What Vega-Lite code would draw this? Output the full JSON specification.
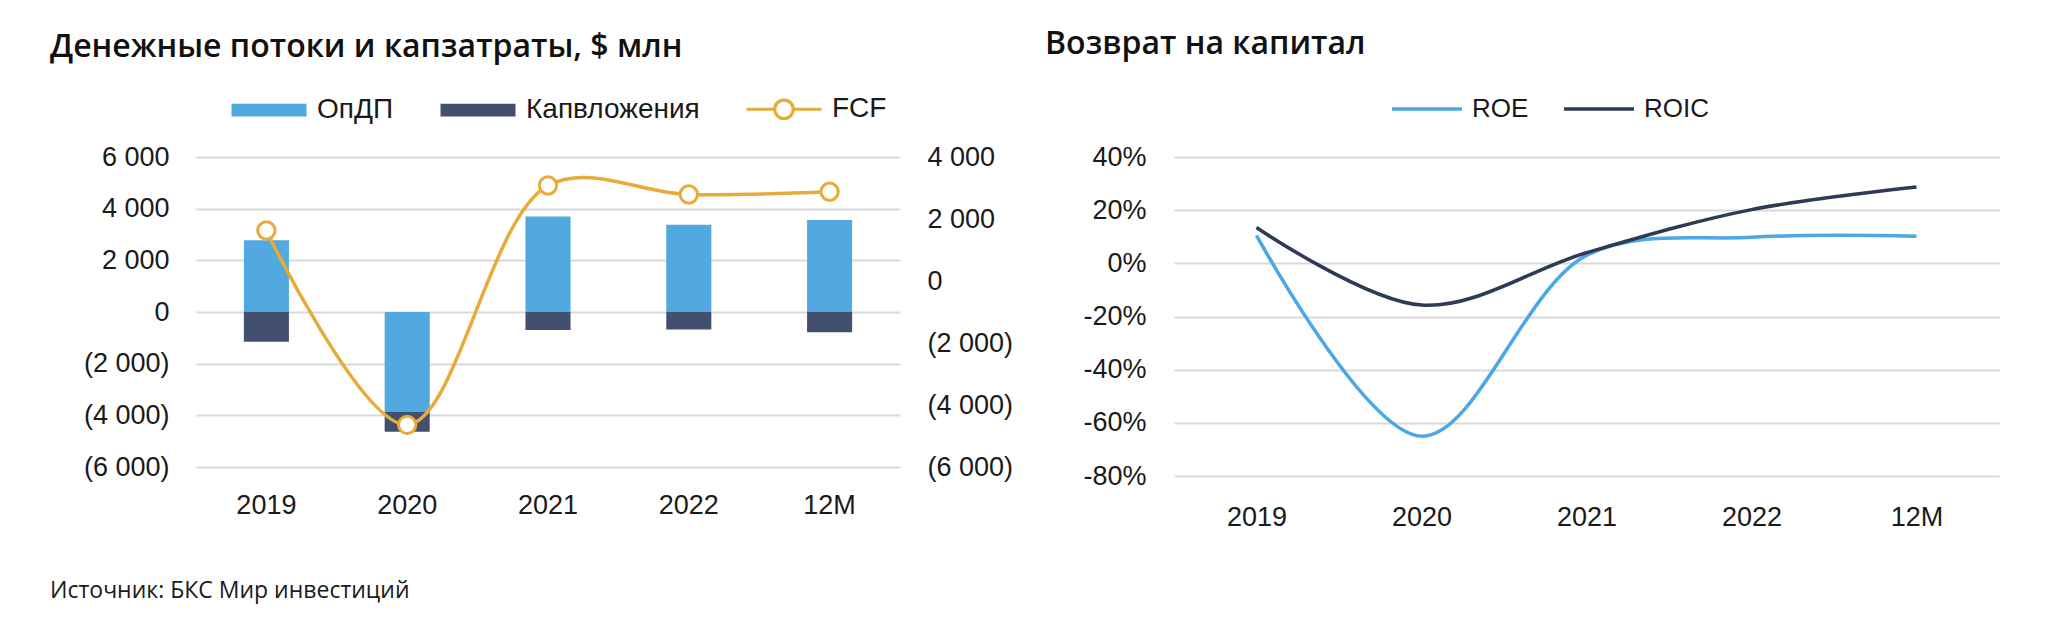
{
  "$schema": "https://vega.github.io/schema/vega-lite/v6.json",
  "autosize": "none",
  "padding": {"left": 196, "top": 157, "right": 1850, "bottom": 463},
  "background": "white",
  "datasets": {
    "flows": [
      {"year": "2019", "series": "ОпДП", "value": 2780},
      {"year": "2019", "series": "Капвложения", "value": -1150},
      {"year": "2020", "series": "ОпДП", "value": -3870},
      {"year": "2020", "series": "Капвложения", "value": -770},
      {"year": "2021", "series": "ОпДП", "value": 3700},
      {"year": "2021", "series": "Капвложения", "value": -700},
      {"year": "2022", "series": "ОпДП", "value": 3380},
      {"year": "2022", "series": "Капвложения", "value": -680},
      {"year": "12M", "series": "ОпДП", "value": 3560},
      {"year": "12M", "series": "Капвложения", "value": -780}
    ],
    "fcf": [
      {"year": "2019", "fcf": 1630},
      {"year": "2020", "fcf": -4640},
      {"year": "2021", "fcf": 3080},
      {"year": "2022", "fcf": 2790},
      {"year": "12M", "fcf": 2880}
    ],
    "returns": [
      {"year": "2019", "series": "ROE", "value": 10.5},
      {"year": "2020", "series": "ROE", "value": -65},
      {"year": "2021", "series": "ROE", "value": 3},
      {"year": "2022", "series": "ROE", "value": 9.8},
      {"year": "12M", "series": "ROE", "value": 10.2},
      {"year": "2019", "series": "ROIC", "value": 13.5},
      {"year": "2020", "series": "ROIC", "value": -15.7},
      {"year": "2021", "series": "ROIC", "value": 4},
      {"year": "2022", "series": "ROIC", "value": 20.2},
      {"year": "12M", "series": "ROIC", "value": 28.7}
    ]
  },
  "title": {
    "text": "Источник: БКС Мир инвестиций",
    "orient": "bottom",
    "anchor": "start",
    "frame": "group",
    "dx": -146,
    "offset": 50,
    "fontSize": 23,
    "fontWeight": "normal",
    "font": "Open Sans",
    "color": "#1a1a1a"
  },
  "hconcat": [
    {
      "width": 704,
      "height": 310,
      "title": {
        "text": "Денежные потоки и капзатраты, $ млн",
        "anchor": "start",
        "frame": "group",
        "dx": -146,
        "offset": 6,
        "fontSize": 32,
        "fontWeight": 600,
        "font": "Open Sans",
        "color": "#111111"
      },
      "layer": [
        {
          "data": {"name": "flows"},
          "mark": {"type": "bar"},
          "encoding": {
            "x": {
              "field": "year", "type": "nominal",
              "sort": ["2019", "2020", "2021", "2022", "12M"],
              "scale": {"paddingInner": 0.68, "paddingOuter": 0.34},
              "axis": {"labelAngle": 0, "labelPadding": 25, "grid": false}
            },
            "y": {
              "field": "value", "type": "quantitative",
              "scale": {"domain": [-6000, 6000]},
              "axis": {
                "values": [-6000, -4000, -2000, 0, 2000, 4000, 6000],
                "labelExpr": "datum.value < 0 ? '(' + replace(format(-datum.value, ','), ',', ' ') + ')' : replace(format(datum.value, ','), ',', ' ') + '\u00a0'",
                "labelPadding": 27,
                "grid": true
              }
            },
            "color": {
              "field": "series", "type": "nominal",
              "scale": {"domain": ["ОпДП", "Капвложения", "FCF"], "range": ["#51A9DF", "#434F6E", "#E8AB3A"]},
              "legend": {
                "orient": "none",
                "legendX": 34,
                "legendY": -87,
                "direction": "horizontal",
                "title": null,
                "symbolSize": 5625,
                "symbolType": "M-1,-0.17H1V0.17H-1Z",
                "labelOffset": 9,
                "labelFontSize": 28,
                "labelLimit": 400,
                "columnPadding": 40,
                "encode": {
                  "symbols": {
                    "update": {
                      "shape": {"signal": "datum.value === 'FCF' ? 'M-1,0H-0.25M0.25,0H1M0.25,0A0.25,0.25 0 1 1 -0.25,0A0.25,0.25 0 1 1 0.25,0ZM0.245,0A0.245,0.245 0 1 0 -0.245,0A0.245,0.245 0 1 0 0.245,0Z' : 'M-1,-0.17H1V0.17H-1Z'"},
                      "stroke": {"signal": "datum.value === 'FCF' ? '#E8AB3A' : 'transparent'"},
                      "strokeWidth": {"value": 3},
                      "opacity": {"value": 1}
                    }
                  }
                }
              }
            },
            "order": {"field": "series", "sort": "descending"}
          }
        },
        {
          "data": {"name": "fcf"},
          "mark": {
            "type": "line",
            "interpolate": "catmull-rom",
            "color": "#E8AB3A",
            "strokeWidth": 3.5,
            "point": {"filled": true, "fill": "#ffffff", "stroke": "#E8AB3A", "strokeWidth": 3, "size": 300, "opacity": 1}
          },
          "encoding": {
            "x": {"field": "year", "type": "nominal", "sort": ["2019", "2020", "2021", "2022", "12M"]},
            "y": {
              "field": "fcf", "type": "quantitative",
              "scale": {"domain": [-6000, 4000]},
              "axis": {
                "orient": "right",
                "values": [-6000, -4000, -2000, 0, 2000, 4000],
                "labelExpr": "datum.value < 0 ? '(' + replace(format(-datum.value, ','), ',', ' ') + ')' : replace(format(datum.value, ','), ',', ' ')",
                "labelPadding": 27,
                "labelAlign": "left",
                "grid": false
              }
            }
          }
        }
      ],
      "resolve": {"scale": {"y": "independent"}}
    },
    {
      "width": 825,
      "height": 319,
      "title": {
        "text": "Возврат на капитал",
        "anchor": "start",
        "frame": "group",
        "dx": -129,
        "offset": 11,
        "fontSize": 32,
        "fontWeight": 600,
        "font": "Open Sans",
        "color": "#111111"
      },
      "data": {"name": "returns"},
      "mark": {"type": "line", "interpolate": "catmull-rom", "strokeWidth": 3.5},
      "encoding": {
        "x": {
          "field": "year", "type": "ordinal",
          "sort": ["2019", "2020", "2021", "2022", "12M"],
          "scale": {"type": "point", "padding": 0.5},
          "axis": {"labelAngle": 0, "labelPadding": 28, "grid": false}
        },
        "y": {
          "field": "value", "type": "quantitative",
          "scale": {"domain": [-80, 40]},
          "axis": {
            "values": [-80, -60, -40, -20, 0, 20, 40],
            "labelExpr": "datum.value + '%'",
            "labelPadding": 28,
            "grid": true
          }
        },
        "color": {
          "field": "series", "type": "nominal",
          "scale": {"domain": ["ROE", "ROIC"], "range": ["#4AA8E4", "#2F3A56"]},
          "legend": {
            "orient": "none",
            "legendX": 216,
            "legendY": -85,
            "direction": "horizontal",
            "title": null,
            "symbolType": "stroke",
            "symbolSize": 4900,
            "symbolStrokeWidth": 3.5,
            "labelOffset": 8,
            "labelFontSize": 26,
            "columnPadding": 28
          }
        }
      }
    }
  ],
  "spacing": 274,
  "bounds": "flush",
  "resolve": {"scale": {"x": "independent", "y": "independent", "color": "independent"}, "legend": {"color": "independent"}},
  "config": {
    "font": "Liberation Sans",
    "view": {"stroke": null},
    "axis": {
      "labelFont": "Liberation Sans",
      "labelFontSize": 27,
      "labelColor": "#1a1a1a",
      "domain": false,
      "ticks": false,
      "title": null,
      "gridColor": "#d9d9d9",
      "gridWidth": 2
    },
    "legend": {
      "labelFont": "Liberation Sans",
      "labelFontSize": 27,
      "labelColor": "#1a1a1a"
    },
    "title": {"font": "Liberation Sans"}
  }
}
